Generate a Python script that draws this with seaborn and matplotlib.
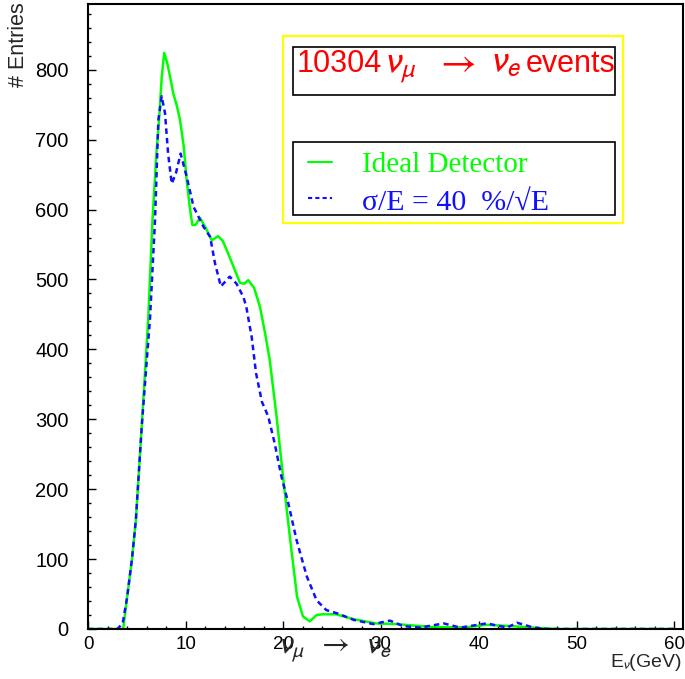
import numpy as np
import pandas as pd
import matplotlib
matplotlib.use("Agg")
import matplotlib.pyplot as plt
import seaborn as sns
from matplotlib.patches import Rectangle
from matplotlib.lines import Line2D
from matplotlib.ticker import MultipleLocator

# ---------------- data ----------------
e_ideal = [0, 1, 2, 3, 3.6, 4.0, 4.5, 4.9, 5.5, 6.17, 6.6, 7.0, 7.27, 7.55, 7.8, 8.1, 8.4,
           8.73, 9.1, 9.42, 9.8, 10.1, 10.4, 10.68, 11.0, 11.46, 12.0, 12.66, 13.0,
           13.3, 13.8, 14.2, 14.9, 15.56, 16.0, 16.4, 17.0, 17.6, 18.1, 18.6, 19.3,
           20.0, 20.7, 21.4, 22.0, 22.7, 23.4, 24.0, 25.4, 27.2, 29.5, 31.6, 35.0,
           38.4, 40.8, 43.5, 46.6, 48, 50, 55, 60]
n_ideal = [0, 0, 0, 0, 0, 45, 100, 156, 290, 445, 585, 680, 728, 790, 824, 810, 790,
           766, 748, 728, 690, 642, 605, 578, 578, 588, 575, 556, 559,
           562, 555, 542, 518, 495, 494, 499, 488, 461, 425, 385, 304,
           213, 127, 46, 18, 11, 20, 21, 21, 14, 8, 7, 3,
           2, 6, 4, 1, 0, 0, 0, 0]

e_smear = [0, 1, 2, 3, 3.55, 4.0, 4.5, 4.9, 5.5, 6.35, 6.86, 7.2, 7.54, 7.88, 8.2,
           8.57, 9.0, 9.48, 10.1, 10.8, 11.8, 12.5, 13.0, 13.6, 14.5, 15.2,
           15.9, 16.2, 16.75, 17.2, 17.8, 18.45, 19.1, 19.8, 20.5, 21.35, 22.4,
           23.4, 24.4, 25.6, 27.2, 29.2, 30.9, 32.3, 34.0, 36.4, 38.1, 40.8,
           42.9, 43.9, 45.6, 47, 50, 55, 60]
n_smear = [0, 0, 0, 0, 8, 45, 100, 156, 290, 445, 585, 728, 762, 738, 680,
           637, 652, 680, 647, 604, 576, 561, 523, 490, 504, 494,
           475, 461, 418, 366, 325, 304, 266, 218, 180, 127, 75,
           41, 27, 22, 13, 7, 12, 4, 2, 8, 2, 8,
           2, 9, 2, 0, 0, 0, 0]

x_major = [0, 10, 20, 30, 40, 50, 60]
y_major = [0, 100, 200, 300, 400, 500, 600, 700, 800]

title_parts = ["10304", r"$\nu_{\mu}$", r"$\rightarrow$", r"$\nu_{e}$", "events"]
leg_labels = ["Ideal Detector", "\u03c3/E = 40  %/\u221aE"]

# ---------------- figure ----------------
W, H = 685, 679
fig = plt.figure(figsize=(W / 100, H / 100), dpi=100)
sns.set_style("white")
plt.rcParams["font.family"] = ["Liberation Sans", "DejaVu Sans"]
plt.rcParams["mathtext.fontset"] = "stixsans"

def fx(px):
    return px / W

def fy(py):
    return 1 - py / H

ax = fig.add_axes([fx(88), fy(629), fx(683) - fx(88), fy(4) - fy(629)])

df_i = pd.DataFrame({"E": e_ideal, "N": n_ideal})
df_s = pd.DataFrame({"E": e_smear, "N": n_smear})
sns.lineplot(data=df_i, x="E", y="N", ax=ax, color="#00ff00", lw=1.8, sort=False)
sns.lineplot(data=df_s, x="E", y="N", ax=ax, color="#1010ff", lw=1.8,
             linestyle=(0, (2.2, 1.6)), sort=False)

ax.set_xlim(0, 60.9)
ax.set_ylim(0, 894)
ax.set_xlabel("")
ax.set_ylabel("")
ax.set_xticks(x_major)
ax.set_yticks(y_major)
ax.xaxis.set_minor_locator(MultipleLocator(2))
ax.yaxis.set_minor_locator(MultipleLocator(20))
ax.tick_params(axis="both", which="both", direction="in", top=False, right=False,
               bottom=True, left=True, colors="black", width=1.0)
ax.tick_params(axis="both", which="major", length=6)
ax.tick_params(axis="both", which="minor", length=2.5)
ax.tick_params(axis="y", which="major", pad=14, labelsize=14.5)
ax.tick_params(axis="x", which="major", pad=5, labelsize=13.5)
for s in ax.spines.values():
    s.set_visible(True)
    s.set_color("black")
    s.set_linewidth(1.5)

# axis texts
fig.text(fx(18), fy(2), "# Entries", rotation=90, ha="center", va="top", fontsize=15.5)
fig.text(fx(682), fy(667), r"E$_{\nu}$(GeV)", ha="right", va="baseline", fontsize=14)
fig.text(fx(336), fy(653), r"$\nu_{\mu}\;\;\rightarrow\;\;\nu_{e}$", ha="center",
         va="baseline", fontsize=22)

# boxes
fig.add_artist(Rectangle((fx(283), fy(223)), fx(623) - fx(283), fy(36) - fy(223),
                         transform=fig.transFigure, fill=False, ec="#ffff00", lw=1.6))
fig.add_artist(Rectangle((fx(293), fy(95)), fx(615) - fx(293), fy(47) - fy(95),
                         transform=fig.transFigure, fill=False, ec="black", lw=1.2))
fig.add_artist(Rectangle((fx(293), fy(215)), fx(615) - fx(293), fy(142) - fy(215),
                         transform=fig.transFigure, fill=False, ec="black", lw=1.2))

title_x = [297, 386, 435, 492, 526]
title_fs = [22, 27, 28, 27, 22]
for txt, xp, fs in zip(title_parts, title_x, title_fs):
    fig.text(fx(xp), fy(72), txt, color="#ff0000", ha="left", va="baseline", fontsize=fs)

fig.add_artist(Line2D([fx(308), fx(332)], [fy(162), fy(162)], transform=fig.transFigure,
                      color="#00ff00", lw=1.5))
fig.add_artist(Line2D([fx(308), fx(332)], [fy(198), fy(198)], transform=fig.transFigure,
                      color="#1010ff", lw=1.5, linestyle=(0, (2, 1.5))))
fig.text(fx(362), fy(172), leg_labels[0], color="#00ff00", ha="left", va="baseline",
         fontsize=21, family=["Liberation Serif", "DejaVu Serif"])
fig.text(fx(362), fy(210), leg_labels[1], color="#1010ff", ha="left", va="baseline",
         fontsize=21.5, family=["Liberation Serif", "DejaVu Serif"])

fig.savefig("out.png", dpi=100)
